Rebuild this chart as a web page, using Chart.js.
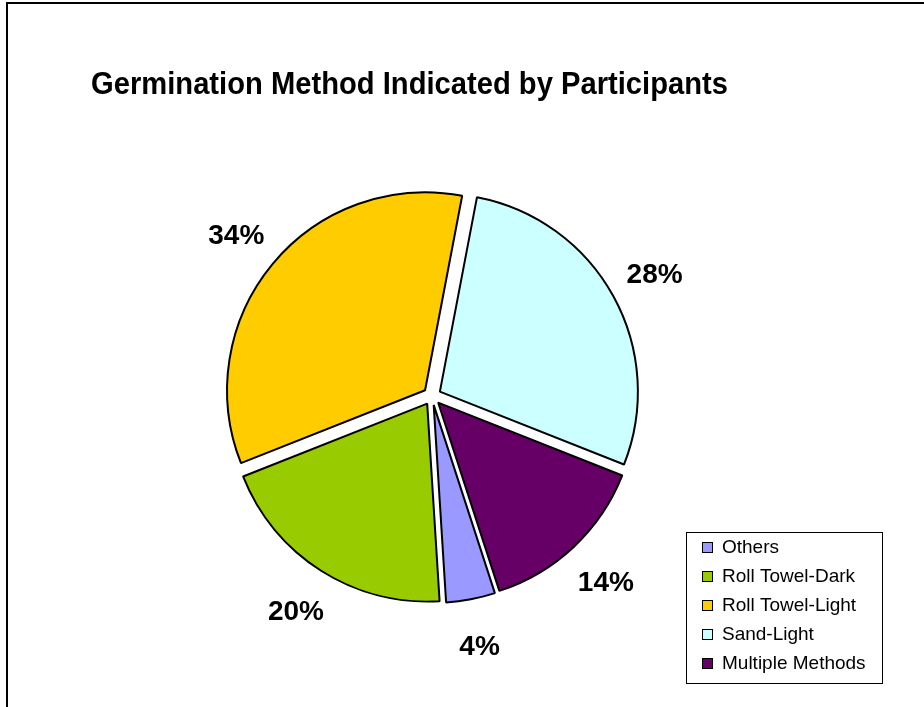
<!DOCTYPE html>
<html>
<head>
<meta charset="utf-8">
<script src="https://cdn.jsdelivr.net/npm/chart.js@4.4.1/dist/chart.umd.min.js"></script>
<style>
    body { margin: 0; background: #fff; }
    #wrap { width: 924px; height: 707px; }
</style>
</head>
<body>
<div id="wrap"><canvas id="pieChart" width="924" height="707"></canvas></div>
<script>
// Data
const categories = ['Others', 'Roll Towel-Dark', 'Roll Towel-Light', 'Sand-Light', 'Multiple Methods'];
const shares = [4, 20, 34, 28, 14];
const sliceColors = ['#9999FF', '#99CC00', '#FFCC00', '#CCFFFF', '#660066'];
const chartTitle = 'Germination Method Indicated by Participants';

const EXPLODE = 9;     // gap of each slice from the centre
const FONT = '"Liberation Sans", Arial, sans-serif';

// push every slice out along its middle angle, without resizing it
const explodePlugin = {
    id: 'explode',
    beforeDatasetDraw(chart, args) {
        args.meta.data.forEach(arc => {
            if (arc._exploded) return;
            const draw = arc.draw;
            arc.draw = function (ctx, area) {
                const mid = (this.startAngle + this.endAngle) / 2;
                ctx.save();
                ctx.translate(Math.cos(mid) * EXPLODE, Math.sin(mid) * EXPLODE);
                draw.call(this, ctx, area);
                ctx.restore();
            };
            arc._exploded = true;
        });
    }
};

const framePlugin = {
    id: 'frame',
    beforeDraw(chart) {
        const ctx = chart.ctx;
        ctx.save();
        ctx.fillStyle = '#fff';
        ctx.fillRect(0, 0, chart.width, chart.height);
        ctx.strokeStyle = '#000';
        ctx.lineWidth = 2;
        ctx.strokeRect(7, 3, chart.width + 20, chart.height + 20);
        ctx.restore();
    }
};

const textPlugin = {
    id: 'texts',
    afterDraw(chart) {
        const ctx = chart.ctx;
        ctx.save();

        // title, a little condensed like the original
        ctx.fillStyle = '#000';
        ctx.font = 'bold 32px ' + FONT;
        ctx.textBaseline = 'alphabetic';
        ctx.textAlign = 'left';
        const w = ctx.measureText(chartTitle).width;
        ctx.translate(91, 94);
        ctx.scale(637 / w, 1);
        ctx.fillText(chartTitle, 0, 0);
        ctx.setTransform(1, 0, 0, 1, 0, 0);

        // percent labels outside the slices
        const meta = chart.getDatasetMeta(0);
        ctx.font = 'bold 28px ' + FONT;
        ctx.textAlign = 'center';
        ctx.textBaseline = 'middle';
        meta.data.forEach((arc, i) => {
            const mid = (arc.startAngle + arc.endAngle) / 2;
            const d = arc.outerRadius + EXPLODE + 47;
            ctx.fillText(shares[i] + '%', arc.x + Math.cos(mid) * d, arc.y + Math.sin(mid) * d + 2);
        });

        // legend box
        ctx.lineWidth = 1;
        ctx.strokeStyle = '#000';
        ctx.strokeRect(686.5, 532.5, 196, 151);
        ctx.font = '19px ' + FONT;
        ctx.textAlign = 'left';
        categories.forEach((name, i) => {
            const y = 547 + i * 29;
            ctx.fillStyle = sliceColors[i];
            ctx.fillRect(702, y - 5, 11, 11);
            ctx.strokeRect(702.5, y - 4.5, 10, 10);
            ctx.fillStyle = '#000';
            ctx.fillText(name, 722, y + 1);
        });
        ctx.restore();
    }
};

new Chart(document.getElementById('pieChart'), {
    type: 'pie',
    data: {
        labels: categories,
        datasets: [{
            data: shares,
            backgroundColor: sliceColors,
            borderColor: '#000',
            borderWidth: 2
        }]
    },
    options: {
        responsive: false,
        devicePixelRatio: 1,
        animation: false,
        rotation: 162,
        radius: 198,
        layout: { padding: { left: 0, right: 60, top: 85, bottom: 0 } },
        plugins: {
            legend: { display: false },
            title: { display: false },
            tooltip: { enabled: false }
        }
    },
    plugins: [framePlugin, explodePlugin, textPlugin]
});
</script>
</body>
</html>
